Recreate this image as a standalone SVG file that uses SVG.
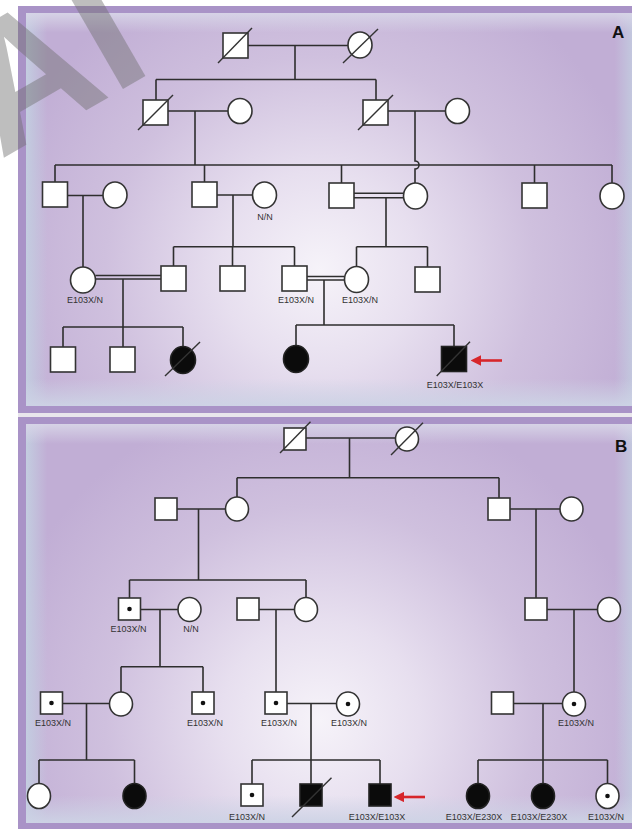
<svg xmlns="http://www.w3.org/2000/svg" width="632" height="829" viewBox="0 0 632 829">
  <defs>
    <radialGradient id="glowA" gradientUnits="userSpaceOnUse" cx="320" cy="270" r="330">
      <stop offset="0" stop-color="#f6f3f9"/>
      <stop offset="0.3" stop-color="#e7dfef"/>
      <stop offset="0.65" stop-color="#cfc0de"/>
      <stop offset="1" stop-color="#c1aed5"/>
    </radialGradient>
    <radialGradient id="glowB" gradientUnits="userSpaceOnUse" cx="320" cy="720" r="330">
      <stop offset="0" stop-color="#f6f3f9"/>
      <stop offset="0.3" stop-color="#e7dfef"/>
      <stop offset="0.65" stop-color="#cfc0de"/>
      <stop offset="1" stop-color="#c1aed5"/>
    </radialGradient>
    <linearGradient id="edgeX" x1="0" y1="0" x2="1" y2="0">
      <stop offset="0" stop-color="#c3cde0" stop-opacity="1"/>
      <stop offset="0.035" stop-color="#c3cde0" stop-opacity="0"/>
      <stop offset="0.965" stop-color="#c3cde0" stop-opacity="0"/>
      <stop offset="1" stop-color="#c3cde0" stop-opacity="1"/>
    </linearGradient>
    <linearGradient id="edgeY" x1="0" y1="0" x2="0" y2="1">
      <stop offset="0" stop-color="#d8d6e8" stop-opacity="0.9"/>
      <stop offset="0.05" stop-color="#d8d6e8" stop-opacity="0"/>
      <stop offset="0.93" stop-color="#cdd3e5" stop-opacity="0"/>
      <stop offset="1" stop-color="#cdd3e5" stop-opacity="0.95"/>
    </linearGradient>
    <marker id="arrowHead" viewBox="0 0 10 10" refX="2" refY="5" markerWidth="4" markerHeight="4" orient="auto">
      <path d="M0,0 L10,5 L0,10 z" fill="#d7262b"/>
    </marker>
    <style>
      .ln { stroke: #2e2e2e; stroke-width: 1.6; fill: none; }
      .sym { fill: #ffffff; stroke: #333333; stroke-width: 1.6; }
      .aff { fill: #0b0b0b; stroke: #222222; stroke-width: 1.6; }
      .dec { stroke: #333333; stroke-width: 1.4; }
      .dot { fill: #111111; }
      .lbl { font-family: "Liberation Sans", Arial, sans-serif; font-size: 9px; fill: #333333; text-anchor: middle; }
      .tag { font-family: "Liberation Sans", Arial, sans-serif; font-size: 17px; font-weight: bold; fill: #111111; }
      .arrow { stroke: #d7262b; stroke-width: 2.6; fill: none; }
    </style>
  </defs>

  <!-- page -->
  <rect x="0" y="0" width="632" height="829" fill="#ffffff"/>

  <!-- panel frames -->
  <g id="panel-a">
    <rect x="18" y="6" width="630" height="407" fill="#a993c7"/>
    <rect x="26" y="13" width="610" height="393" fill="url(#glowA)"/>
    <rect x="26" y="13" width="610" height="393" fill="url(#edgeX)"/>
    <rect x="26" y="13" width="610" height="393" fill="url(#edgeY)"/>
  </g>
  <rect x="18" y="413" width="630" height="4" fill="#e9e6ec"/>
  <g id="panel-b">
    <rect x="18" y="417" width="630" height="420" fill="#a993c7"/>
    <rect x="26" y="424" width="610" height="399" fill="url(#glowB)"/>
    <rect x="26" y="424" width="610" height="399" fill="url(#edgeX)"/>
    <rect x="26" y="424" width="610" height="399" fill="url(#edgeY)"/>
  </g>

  <!-- connectors -->
  <g id="connectors">
    <!-- A: generation I -->
    <path class="ln" d="M248,45.5 H348 M295,45.5 V79.5 M156,79.5 H376 M156,79.5 V100 M376,79.5 V100"/>
    <!-- A: generation II couples -->
    <path class="ln" d="M168,111 H228 M195,111 V165 M388,111 H445.5"/>
    <path class="ln" d="M415,111 V161 A4,4 0 0 1 415,169 V183"/>
    <!-- A: generation III sibship -->
    <path class="ln" d="M55,165 H612 M55,165 V182 M204.5,165 V182 M341.5,165 V183 M534.5,165 V183 M612,165 V183"/>
    <path class="ln" d="M67.5,195.5 H103 M83,195.5 V267"/>
    <path class="ln" d="M217,195 H252.5 M233,195 V246.7 M173.5,246.7 H294.5 M173.5,246.7 V266 M232.5,246.7 V266 M294.5,246.7 V266"/>
    <path class="ln" d="M354,193.3 H403.5 M354,197.7 H403.5 M386,197.7 V246.7 M356.5,246.7 H427.5 M356.5,246.7 V266.5 M427.5,246.7 V267"/>
    <!-- A: generation IV couples -->
    <path class="ln" d="M95.5,275.5 H161 M95.5,279 H161 M123,279 V347 M63,327 H183 M63,327 V347 M183,327 V346.5"/>
    <path class="ln" d="M307,276.5 H344.5 M307,280 H344.5 M324,280 V325 M296,325 H454 M296,325 V345.5 M454,325 V346.5"/>

    <!-- B: generation I -->
    <path class="ln" d="M306,438 H395.5 M349.5,438 V477.7 M237,477.7 H499 M237,477.7 V497 M499,477.7 V498"/>
    <!-- B: generation II -->
    <path class="ln" d="M177,509 H225.5 M198.5,509 V580 M129.5,580 H306 M129.5,580 V598 M306,580 V597.5"/>
    <path class="ln" d="M510,509 H560 M536,509 V598"/>
    <!-- B: generation III -->
    <path class="ln" d="M140.5,609.5 H178 M160,609.5 V666.7 M121,666.7 H203 M121,666.7 V692 M203,666.7 V692"/>
    <path class="ln" d="M259,609.5 H294.5 M276,609.5 V692"/>
    <path class="ln" d="M547,609.5 H597.5 M574,609.5 V692"/>
    <!-- B: generation IV -->
    <path class="ln" d="M62.5,703.5 H109.5 M86.5,703.5 V760 M39,760 H134.5 M39,760 V783.5 M134.5,760 V783.5"/>
    <path class="ln" d="M287,703.5 H336.5 M311,703.5 V784 M252,760 H380 M252,760 V784 M380,760 V784"/>
    <path class="ln" d="M513.5,703.5 H562 M543,703.5 V783.5 M478,760 H607.5 M478,760 V783.5 M607.5,760 V783.5"/>
  </g>

  <!-- ===== Panel A individuals ===== -->
  <g id="a-i-1"><rect class="sym" x="223" y="33" width="25" height="25"/><line class="dec" x1="218" y1="63" x2="252" y2="28"/></g>
  <g id="a-i-2"><ellipse class="sym" cx="360" cy="45" rx="12" ry="13"/><line class="dec" x1="343" y1="63" x2="378" y2="29"/></g>

  <g id="a-ii-1"><rect class="sym" x="143" y="100" width="25" height="25"/><line class="dec" x1="138" y1="130" x2="173" y2="95"/></g>
  <g id="a-ii-2"><ellipse class="sym" cx="240" cy="111" rx="12" ry="12.5"/></g>
  <g id="a-ii-3"><rect class="sym" x="363" y="100" width="25" height="25"/><line class="dec" x1="358" y1="130" x2="393" y2="95"/></g>
  <g id="a-ii-4"><ellipse class="sym" cx="457.5" cy="111" rx="12" ry="12.5"/></g>

  <g id="a-iii-1"><rect class="sym" x="42.5" y="182" width="25" height="25"/></g>
  <g id="a-iii-2"><ellipse class="sym" cx="115" cy="195" rx="12" ry="13"/></g>
  <g id="a-iii-3"><rect class="sym" x="192" y="182" width="25" height="25"/></g>
  <g id="a-iii-4"><ellipse class="sym" cx="264.5" cy="195" rx="12" ry="13"/><text class="lbl" x="265" y="220">N/N</text></g>
  <g id="a-iii-5"><rect class="sym" x="329" y="183" width="25" height="25"/></g>
  <g id="a-iii-6"><ellipse class="sym" cx="415.5" cy="196" rx="12" ry="13"/></g>
  <g id="a-iii-7"><rect class="sym" x="522" y="183" width="25" height="25"/></g>
  <g id="a-iii-8"><ellipse class="sym" cx="612" cy="196" rx="12" ry="13"/></g>

  <g id="a-iv-1"><ellipse class="sym" cx="83" cy="280" rx="12.5" ry="13"/><text class="lbl" x="85" y="303">E103X/N</text></g>
  <g id="a-iv-2"><rect class="sym" x="161" y="266" width="25" height="25"/></g>
  <g id="a-iv-3"><rect class="sym" x="220" y="266" width="25" height="25"/></g>
  <g id="a-iv-4"><rect class="sym" x="282" y="266" width="25" height="25"/><text class="lbl" x="296" y="303">E103X/N</text></g>
  <g id="a-iv-5"><ellipse class="sym" cx="356.5" cy="279.5" rx="12" ry="13"/><text class="lbl" x="360" y="303">E103X/N</text></g>
  <g id="a-iv-6"><rect class="sym" x="415" y="267" width="25" height="25"/></g>

  <g id="a-v-1"><rect class="sym" x="50.5" y="347" width="25" height="25"/></g>
  <g id="a-v-2"><rect class="sym" x="110" y="347" width="25" height="25"/></g>
  <g id="a-v-3"><ellipse class="aff" cx="183" cy="360" rx="12.5" ry="13.5"/><line class="dec" x1="165" y1="376" x2="200" y2="342"/></g>
  <g id="a-v-4"><ellipse class="aff" cx="296" cy="359" rx="12.5" ry="13.5"/></g>
  <g id="a-v-5"><rect class="aff" x="441.5" y="346.5" width="25" height="25"/><line class="dec" x1="436.7" y1="376" x2="470" y2="341.7"/><text class="lbl" x="455" y="388">E103X/E103X</text></g>
  <g id="a-proband-arrow"><line class="arrow" x1="502" y1="360.5" x2="479" y2="360.5" marker-end="url(#arrowHead)"/></g>

  <text class="tag" x="612" y="38">A</text>

  <!-- ===== Panel B individuals ===== -->
  <g id="b-i-1"><rect class="sym" x="284" y="428" width="22" height="22"/><line class="dec" x1="280" y1="453" x2="310.5" y2="421.7"/></g>
  <g id="b-i-2"><ellipse class="sym" cx="407" cy="439" rx="11.5" ry="12"/><line class="dec" x1="391" y1="455" x2="423" y2="422.7"/></g>

  <g id="b-ii-1"><rect class="sym" x="155" y="498" width="22" height="22"/></g>
  <g id="b-ii-2"><ellipse class="sym" cx="237" cy="509" rx="11.5" ry="12"/></g>
  <g id="b-ii-3"><rect class="sym" x="488" y="498" width="22" height="22"/></g>
  <g id="b-ii-4"><ellipse class="sym" cx="571.5" cy="509" rx="11.5" ry="12"/></g>

  <g id="b-iii-1"><rect class="sym" x="118.5" y="598" width="22" height="22"/><circle class="dot" cx="129.5" cy="609" r="2.3"/><text class="lbl" x="128.5" y="632">E103X/N</text></g>
  <g id="b-iii-2"><ellipse class="sym" cx="189.5" cy="609.5" rx="11.5" ry="12"/><text class="lbl" x="191" y="632">N/N</text></g>
  <g id="b-iii-3"><rect class="sym" x="237" y="598" width="22" height="22"/></g>
  <g id="b-iii-4"><ellipse class="sym" cx="306" cy="609.5" rx="11.5" ry="12"/></g>
  <g id="b-iii-5"><rect class="sym" x="525" y="598" width="22" height="22"/></g>
  <g id="b-iii-6"><ellipse class="sym" cx="609" cy="609.5" rx="11.5" ry="12"/></g>

  <g id="b-iv-1"><rect class="sym" x="40.5" y="692" width="22" height="22"/><circle class="dot" cx="51.5" cy="703" r="2.3"/><text class="lbl" x="53" y="726">E103X/N</text></g>
  <g id="b-iv-2"><ellipse class="sym" cx="121" cy="704" rx="11.5" ry="12"/></g>
  <g id="b-iv-3"><rect class="sym" x="192" y="692" width="22" height="22"/><circle class="dot" cx="203" cy="703" r="2.3"/><text class="lbl" x="205" y="726">E103X/N</text></g>
  <g id="b-iv-4"><rect class="sym" x="265" y="692" width="22" height="22"/><circle class="dot" cx="276" cy="703" r="2.3"/><text class="lbl" x="279" y="726">E103X/N</text></g>
  <g id="b-iv-5"><ellipse class="sym" cx="348" cy="704" rx="11.5" ry="12"/><circle class="dot" cx="348" cy="704" r="2.3"/><text class="lbl" x="349" y="726">E103X/N</text></g>
  <g id="b-iv-6"><rect class="sym" x="491.5" y="692" width="22" height="22"/></g>
  <g id="b-iv-7"><ellipse class="sym" cx="574" cy="704" rx="11.5" ry="12"/><circle class="dot" cx="574" cy="704" r="2.3"/><text class="lbl" x="576" y="726">E103X/N</text></g>

  <g id="b-v-1"><ellipse class="sym" cx="39" cy="796" rx="11.5" ry="12.5"/></g>
  <g id="b-v-2"><ellipse class="aff" cx="134.5" cy="796" rx="11.5" ry="12.5"/></g>
  <g id="b-v-3"><rect class="sym" x="241" y="784" width="22" height="22"/><circle class="dot" cx="252" cy="795" r="2.3"/><text class="lbl" x="247" y="820">E103X/N</text></g>
  <g id="b-v-4"><rect class="aff" x="300" y="784" width="22" height="22"/><line class="dec" x1="292" y1="817" x2="331.5" y2="777.7"/></g>
  <g id="b-v-5"><rect class="aff" x="369" y="784" width="22" height="22"/><text class="lbl" x="377" y="820">E103X/E103X</text></g>
  <g id="b-v-6"><ellipse class="aff" cx="478" cy="796" rx="11.5" ry="12.5"/><text class="lbl" x="474" y="820">E103X/E230X</text></g>
  <g id="b-v-7"><ellipse class="aff" cx="543" cy="796" rx="11.5" ry="12.5"/><text class="lbl" x="539" y="820">E103X/E230X</text></g>
  <g id="b-v-8"><ellipse class="sym" cx="607.5" cy="796" rx="11.5" ry="12.5"/><circle class="dot" cx="607.5" cy="796" r="2.3"/><text class="lbl" x="606" y="820">E103X/N</text></g>
  <g id="b-proband-arrow"><line class="arrow" x1="425" y1="797" x2="402" y2="797" marker-end="url(#arrowHead)"/></g>

  <text class="tag" x="615" y="452">B</text>

  <!-- translucent corner stamp -->
  <text x="0" y="160" transform="rotate(-30 0 160)" font-family="Liberation Sans, Arial, sans-serif" font-size="180" font-weight="bold" fill="#6e6e6e" fill-opacity="0.45">AI</text>
</svg>
